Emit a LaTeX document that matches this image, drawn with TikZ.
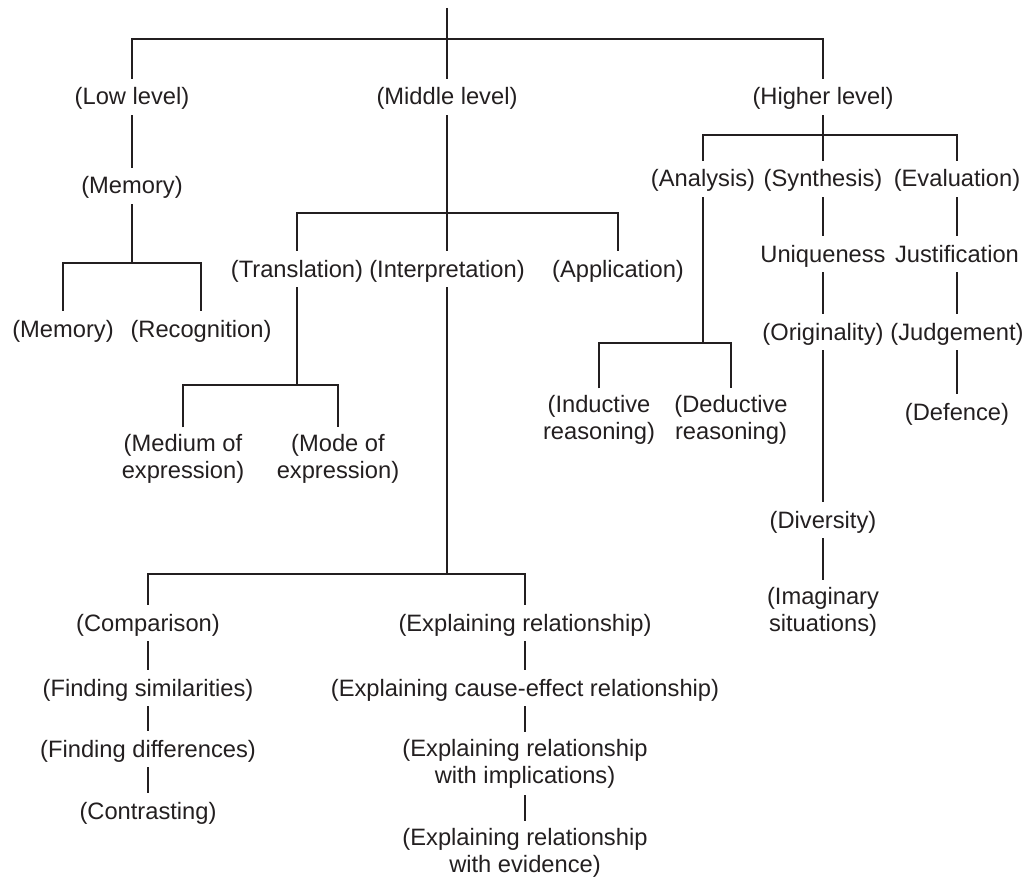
\documentclass[tikz,border=0pt]{standalone}
\usepackage{fontspec}
\setmainfont{Liberation Sans}
\definecolor{ink}{RGB}{35,31,32}
\begin{document}
\begin{tikzpicture}[x=1pt,y=-1pt,
  base/.style={inner xsep=0pt,inner ysep=7pt,align=center,
    font=\fontsize{23.7}{27}\selectfont,text=ink},
  lbl/.style={base,text height=19pt,text depth=3pt},
  lbltwo/.style={base},
  conn/.style={draw=ink,line width=1.4pt}]
\useasboundingbox (0,0) rectangle (1030,877);
\coordinate (root) at (447,8);
% level 1
\node[lbl] (low) at (132,97) {(Low level)};
\node[lbl] (mid) at (447,97) {(Middle level)};
\node[lbl] (high) at (823,97) {(Higher level)};
% low branch
\node[lbl] (mem) at (132,186) {(Memory)};
\node[lbl] (mem2) at (63,329) {(Memory)};
\node[lbl] (rec) at (201,329) {(Recognition)};
% middle branch
\node[lbl] (trans) at (297,269) {(Translation)};
\node[lbl] (interp) at (447,269) {(Interpretation)};
\node[lbl] (appl) at (618,269) {(Application)};
\node[lbltwo] (medium) at (183,459) {(Medium of\\expression)};
\node[lbltwo] (mode) at (338,459) {(Mode of\\expression)};
\node[lbl] (comp) at (148,623) {(Comparison)};
\node[lbl] (sim) at (148,688) {(Finding similarities)};
\node[lbl] (diff) at (148,749) {(Finding differences)};
\node[lbl] (contr) at (148,811) {(Contrasting)};
\node[lbl] (exrel) at (525,623) {(Explaining relationship)};
\node[lbl] (cause) at (525,688) {(Explaining cause-effect relationship)};
\node[lbltwo] (impl) at (525,763.5) {(Explaining relationship\\with implications)};
\node[lbltwo] (evid) at (525,853) {(Explaining relationship\\with evidence)};
% higher branch
\node[lbl] (analysis) at (703,179) {(Analysis)};
\node[lbl] (synth) at (823,179) {(Synthesis)};
\node[lbl] (eval) at (957,179) {(Evaluation)};
\node[lbltwo] (induct) at (599,420) {(Inductive\\reasoning)};
\node[lbltwo] (deduct) at (731,420) {(Deductive\\reasoning)};
\node[lbl] (uniq) at (823,254) {Uniqueness};
\node[lbl] (just) at (957,254) {Justification};
\node[lbl] (orig) at (823,332) {(Originality)};
\node[lbl] (judg) at (957,332) {(Judgement)};
\node[lbl] (defence) at (957,412) {(Defence)};
\node[lbl] (divers) at (823,520) {(Diversity)};
\node[lbltwo] (imag) at (823,612) {(Imaginary\\situations)};
% connectors: top
\draw[conn] (root) -- (mid.north);
\draw[conn] (low.north) -- (low.north |- 0,39) -- (high.north |- 0,39) -- (high.north);
% low
\draw[conn] (low.south) -- (mem.north);
\draw[conn] (mem.south) -- (mem.south |- 0,263);
\draw[conn] (mem2.north) -- (mem2.north |- 0,263) -- (rec.north |- 0,263) -- (rec.north);
% middle
\draw[conn] (mid.south) -- (interp.north);
\draw[conn] (trans.north) -- (trans.north |- 0,213) -- (appl.north |- 0,213) -- (appl.north);
\draw[conn] (trans.south) -- (trans.south |- 0,385);
\draw[conn] (medium.north) -- (medium.north |- 0,385) -- (mode.north |- 0,385) -- (mode.north);
\draw[conn] (interp.south) -- (interp.south |- 0,574);
\draw[conn] (comp.north) -- (comp.north |- 0,574) -- (exrel.north |- 0,574) -- (exrel.north);
\draw[conn] (comp.south) -- (sim.north);
\draw[conn] (sim.south) -- (diff.north);
\draw[conn] (diff.south) -- (contr.north);
\draw[conn] (exrel.south) -- (cause.north);
\draw[conn] (cause.south) -- (impl.north);
\draw[conn] (impl.south) -- (evid.north);
% higher
\draw[conn] (high.south) -- (synth.north);
\draw[conn] (analysis.north) -- (analysis.north |- 0,135) -- (eval.north |- 0,135) -- (eval.north);
\draw[conn] (analysis.south) -- (analysis.south |- 0,343);
\draw[conn] (induct.north) -- (induct.north |- 0,343) -- (deduct.north |- 0,343) -- (deduct.north);
\draw[conn] (synth.south) -- (uniq.north);
\draw[conn] (uniq.south) -- (orig.north);
\draw[conn] (orig.south) -- (divers.north);
\draw[conn] (divers.south) -- (imag.north);
\draw[conn] (eval.south) -- (just.north);
\draw[conn] (just.south) -- (judg.north);
\draw[conn] (judg.south) -- (defence.north);
\end{tikzpicture}
\end{document}
